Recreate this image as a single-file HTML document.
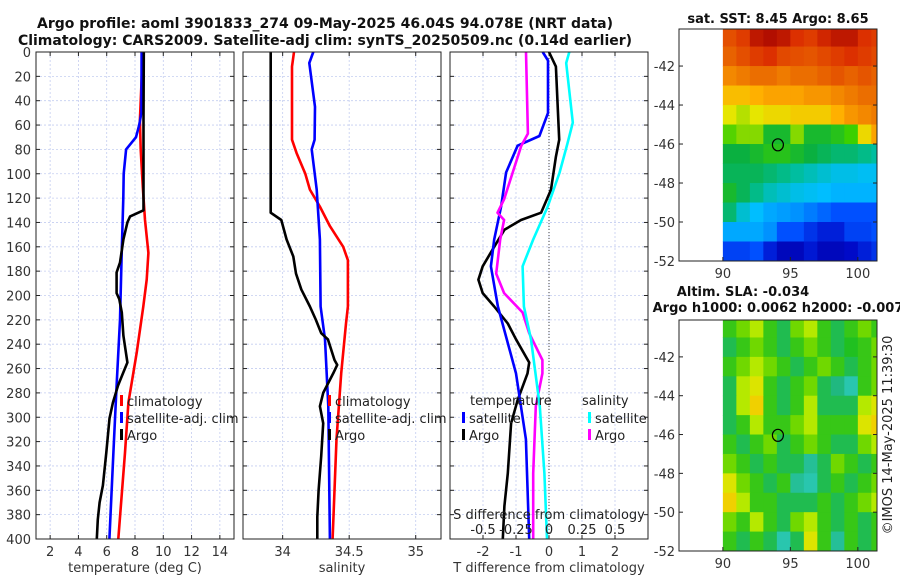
<!DOCTYPE html>
<html><head><meta charset="utf-8"><style>
body{margin:0;background:#fff;}
svg{display:block;font-family:"DejaVu Sans","Liberation Sans",sans-serif;}
</style></head><body>
<svg id="c" width="900" height="580" viewBox="0 0 900 580">
<text x="325" y="28" font-size="14" font-weight="bold" text-anchor="middle" fill="#111">Argo profile: aoml 3901833_274 09-May-2025 46.04S 94.078E (NRT data)</text>
<text x="325" y="45" font-size="14" font-weight="bold" text-anchor="middle" fill="#111">Climatology: CARS2009. Satellite-adj clim: synTS_20250509.nc (0.14d earlier)</text>
<text x="778" y="23" font-size="13" font-weight="bold" text-anchor="middle" fill="#111">sat. SST: 8.45 Argo: 8.65</text>
<text x="743" y="296" font-size="13" font-weight="bold" text-anchor="middle" fill="#111">Altim. SLA: -0.034</text>
<text x="778" y="312" font-size="13" font-weight="bold" text-anchor="middle" fill="#111">Argo h1000: 0.0062 h2000: -0.007</text>
<text transform="translate(892,435) rotate(-90)" font-size="13" text-anchor="middle" fill="#222">©IMOS 14-May-2025 11:39:30</text>
</svg>
<script>
// ---- data ----
const depthTicks=[0,20,40,60,80,100,120,140,160,180,200,220,240,260,280,300,320,340,360,380,400];
const tempTicks=[2,4,6,8,10,12,14];
const salTicks=[34,34.5,35];
const salTickLabels=["34","34.5","35"];
const tdiffTicks=[-2,-1,0,1,2];
const sdiffTicks=[-0.5,-0.25,0,0.25,0.5];
const sdiffTickLabels=["-0.5","-0.25","0","0.25","0.5"];

const tArgoDepth=[0,56,130,135,140,154,173,181,198,203,214,233,255,263,274,288,301,329,356,370,384,400];
const tArgoVal=[8.62,8.6,8.6,7.65,7.46,7.18,6.94,6.7,6.7,6.89,7.07,7.18,7.46,7.18,6.8,6.44,6.2,5.97,5.73,5.5,5.37,5.3];
const tSatDepth=[0,50,60,70,80,100,120,165,220,274,329,400];
const tSatVal=[8.47,8.45,8.3,8.07,7.37,7.2,7.17,7.06,6.94,6.7,6.47,6.19];
const tClimDepth=[0,56,80,111,138,165,187,209,247,288,329,400];
const tClimVal=[8.55,8.35,8.4,8.55,8.71,8.95,8.83,8.59,8.12,7.53,7.29,6.82];

const sArgoDepth=[0,132,138,154,168,182,195,209,220,231,236,253,257,264,280,291,305,332,360,382,400];
const sArgoVal=[33.91,33.91,33.99,34.03,34.08,34.10,34.14,34.205,34.25,34.29,34.34,34.39,34.41,34.38,34.305,34.28,34.305,34.29,34.27,34.26,34.26];
const sClimDepth=[0,12,72,83,100,113,127,143,160,171,209,223,264,318,400];
const sClimVal=[34.085,34.07,34.07,34.105,34.17,34.205,34.28,34.355,34.455,34.49,34.49,34.476,34.44,34.405,34.375];
const sSatDepth=[0,9,45,72,80,113,154,209,236,291,400];
const sSatVal=[34.23,34.2,34.243,34.24,34.218,34.256,34.28,34.285,34.318,34.343,34.355];

const dtArgoDepth=[0,12,72,86,113,132,138,146,160,176,187,198,209,223,236,255,264,286,305,346,373,400];
const dtArgoVal=[0,0.21,0.31,0.21,0.06,-0.24,-0.85,-1.35,-1.66,-2.01,-2.14,-2.01,-1.66,-1.25,-1.0,-0.6,-0.65,-0.95,-1.15,-1.25,-1.35,-1.4];
const dtSatDepth=[0,7,50,69,77,99,127,154,176,209,264,318,400];
const dtSatVal=[-0.19,-0.03,-0.03,-0.29,-0.95,-1.3,-1.45,-1.66,-1.76,-1.55,-1.0,-0.7,-0.6];
const dsArgoDepth=[0,67,77,99,121,132,138,154,182,198,214,231,253,264,291,346,400];
const dsArgoVal=[-0.174,-0.16,-0.21,-0.275,-0.34,-0.39,-0.34,-0.37,-0.40,-0.34,-0.2,-0.15,-0.05,-0.05,-0.1,-0.12,-0.12];
const dsSatDepth=[0,9,58,75,99,127,154,176,209,236,291,346,400];
const dsSatVal=[0.154,0.13,0.18,0.14,0.08,-0.01,-0.12,-0.2,-0.19,-0.136,-0.07,-0.035,-0.015];

const lonTicks=[90,95,100];
const latTicks=[-42,-44,-46,-48,-50,-52];
const gridLon0=90, gridLat0=-40;
const sstGrid=[
[0.85,0.88,0.95,0.97,0.95,0.9,0.88,0.92,0.95,0.95,0.9,0.88],
[0.82,0.85,0.88,0.9,0.86,0.85,0.84,0.86,0.88,0.9,0.88,0.86],
[0.76,0.78,0.8,0.8,0.78,0.8,0.8,0.82,0.84,0.82,0.84,0.82],
[0.68,0.68,0.7,0.72,0.72,0.72,0.74,0.74,0.76,0.78,0.8,0.8],
[0.62,0.6,0.62,0.64,0.64,0.66,0.66,0.66,0.7,0.74,0.76,0.78],
[0.56,0.58,0.58,0.5,0.5,0.58,0.5,0.5,0.52,0.55,0.64,0.72],
[0.48,0.48,0.5,0.52,0.52,0.5,0.48,0.46,0.44,0.44,0.42,0.4],
[0.46,0.46,0.46,0.44,0.42,0.4,0.38,0.36,0.34,0.34,0.33,0.33],
[0.5,0.46,0.42,0.38,0.36,0.34,0.33,0.32,0.31,0.31,0.31,0.31],
[0.44,0.36,0.32,0.3,0.29,0.28,0.26,0.24,0.22,0.22,0.22,0.22],
[0.3,0.3,0.3,0.28,0.22,0.22,0.18,0.15,0.15,0.2,0.2,0.22],
[0.2,0.2,0.22,0.15,0.1,0.1,0.14,0.1,0.1,0.12,0.15,0.18]];
const slaGrid=[
[.5,.55,.6,.5,.45,.55,.6,.5,.45,.5,.55,.5],
[.45,.5,.55,.5,.45,.5,.55,.5,.45,.48,.5,.55],
[.5,.55,.6,.55,.5,.45,.5,.55,.5,.45,.5,.55],
[.45,.6,.65,.5,.45,.5,.55,.45,.42,.38,.5,.55],
[.45,.6,.7,.5,.45,.5,.6,.45,.45,.45,.6,.65],
[.45,.5,.6,.5,.5,.55,.6,.5,.5,.5,.65,.7],
[.5,.45,.5,.55,.45,.5,.55,.5,.45,.45,.55,.6],
[.55,.5,.45,.5,.45,.45,.4,.45,.55,.5,.45,.5],
[.65,.55,.5,.45,.5,.4,.38,.45,.5,.45,.5,.55],
[.7,.6,.5,.5,.45,.45,.45,.5,.45,.5,.55,.6],
[.55,.5,.6,.5,.45,.55,.6,.5,.45,.5,.45,.5],
[.5,.45,.5,.45,.38,.45,.65,.5,.4,.5,.45,.5]];
const argoLon=94.078, argoLat=-46.04;

// colour stops (position, r,g,b)
const sstStops=[[0,0,0,127],[0.12,0,10,200],[0.22,0,80,255],[0.32,0,190,255],[0.4,0,190,160],[0.48,10,176,64],[0.55,60,208,0],[0.62,230,230,0],[0.7,255,176,0],[0.8,235,110,0],[0.9,220,48,0],[1,160,0,0]];
const slaStops=[[0,0,140,220],[0.35,48,208,208],[0.42,32,184,128],[0.48,32,192,32],[0.55,112,216,0],[0.62,208,240,0],[0.7,240,208,0],[1,255,120,0]];

// ---- drawing ----
const NS='http://www.w3.org/2000/svg';
const svg=document.getElementById('c');
function mk(tag,attrs,parent){const e=document.createElementNS(NS,tag);for(const k in attrs)e.setAttribute(k,attrs[k]);(parent||svg).appendChild(e);return e;}
const TOP=52,BOT=539;
const yD=d=>TOP+(d-0)*(BOT-TOP)/400;

function panel(name,x0,x1,xmin,xmax,ticks,labels,xlabel){
  const xs=v=>x0+(v-xmin)*(x1-x0)/(xmax-xmin);
  const g=mk('g',{});
  
  
  depthTicks.forEach(d=>{const l=mk('line',{x1:x0,x2:x1,y1:yD(d),y2:yD(d),stroke:'#c4cdf0','stroke-width':0.8,'stroke-dasharray':'2,2'},g);});
  ticks.forEach((t,i)=>{
    const gl=mk('line',{x1:xs(t),x2:xs(t),y1:TOP,y2:BOT,stroke:'#c4cdf0','stroke-width':0.8,'stroke-dasharray':'2,2'},g);
    
    mk('line',{x1:xs(t),x2:xs(t),y1:BOT,y2:BOT-4,stroke:'#222'},g);
    mk('line',{x1:xs(t),x2:xs(t),y1:TOP,y2:TOP+4,stroke:'#222'},g);
    const tx=mk('text',{x:xs(t),y:556,'font-size':13,'text-anchor':'middle',fill:'#333'},g);
    tx.textContent=labels?labels[i]:String(t);
    
  });
  depthTicks.forEach(d=>{mk('line',{x1:x0,x2:x0+4,y1:yD(d),y2:yD(d),stroke:'#222'},g);mk('line',{x1:x1,x2:x1-4,y1:yD(d),y2:yD(d),stroke:'#222'},g);});
  const xl=mk('text',{x:(x0+x1)/2,y:572,'font-size':13,'text-anchor':'middle',fill:'#333'},g);
  xl.textContent=xlabel;
  
  return {g,xs};
}
function line(p,depths,vals,color,name,xs){
  const f=xs||p.xs;
  const pts=depths.map((d,i)=>f(vals[i]).toFixed(1)+','+yD(d).toFixed(1)).join(' ');
  const e=mk('polyline',{points:pts,fill:'none',stroke:color,'stroke-width':2.6,'stroke-linejoin':'round'},p.g);
  
  
}
function frame(p,x0,x1){mk('rect',{x:x0,y:TOP,width:x1-x0,height:BOT-TOP,fill:'none',stroke:'#222','stroke-width':1},p.g);}
function legItem(p,x,y,color,label,name){
  mk('rect',{x:x,y:y-9,width:3,height:11,fill:color},p.g);
  const t=mk('text',{x:x+7,y:y+2,'font-size':13,fill:'#222'},p.g);
  t.textContent=label;
  
  
}

// panel 1
const p1=panel('temperature-panel',36,234,1,15,tempTicks,null,'temperature (deg C)');
depthTicks.forEach(d=>{const t=mk('text',{x:31,y:yD(d)+5,'font-size':13,'text-anchor':'end',fill:'#333'});t.textContent=d;});
line(p1,tClimDepth,tClimVal,'#ff0000','temp-climatology-line');
line(p1,tSatDepth,tSatVal,'#0000ff','temp-satellite-line');
line(p1,tArgoDepth,tArgoVal,'#000','temp-argo-line');
frame(p1,36,234);
legItem(p1,120,404,'#ff0000','climatology','legend-climatology');
legItem(p1,120,421,'#0000ff','satellite-adj. clim','legend-satellite');
legItem(p1,120,438,'#000','Argo','legend-argo');

// panel 2
const p2=panel('salinity-panel',243,441,33.702,35.19,salTicks,salTickLabels,'salinity');
line(p2,sClimDepth,sClimVal,'#ff0000','sal-climatology-line');
line(p2,sSatDepth,sSatVal,'#0000ff','sal-satellite-line');
line(p2,sArgoDepth,sArgoVal,'#000','sal-argo-line');
frame(p2,243,441);
legItem(p2,328,404,'#ff0000','climatology','legend-climatology');
legItem(p2,328,421,'#0000ff','satellite-adj. clim','legend-satellite');
legItem(p2,328,438,'#000','Argo','legend-argo');

// panel 3
const p3=panel('difference-panel',450,648,-3,3,tdiffTicks,null,'T difference from climatology');
const sx=v=>450+(v-(-0.75))*(198)/(1.5);
mk('line',{x1:p3.xs(0),x2:p3.xs(0),y1:TOP,y2:BOT,stroke:'#444','stroke-width':1,'stroke-dasharray':'1,2'},p3.g);
line(p3,dtArgoDepth,dtArgoVal,'#000','tdiff-argo-line');
line(p3,dtSatDepth,dtSatVal,'#0000ff','tdiff-satellite-line');
line(p3,dsArgoDepth,dsArgoVal,'#ff00ff','sdiff-argo-line',sx);
line(p3,dsSatDepth,dsSatVal,'#00ffff','sdiff-satellite-line',sx);
frame(p3,450,648);
sdiffTicks.forEach((t,i)=>{const tx=mk('text',{x:sx(t),y:534,'font-size':13,'text-anchor':'middle',fill:'#222'},p3.g);tx.textContent=sdiffTickLabels[i];});
{const t=mk('text',{x:549,y:519,'font-size':13,'text-anchor':'middle',fill:'#222'},p3.g);t.textContent='S difference from climatology';}
{const t=mk('text',{x:470,y:405,'font-size':13,fill:'#222'},p3.g);t.textContent='temperature';}
{const t=mk('text',{x:582,y:405,'font-size':13,fill:'#222'},p3.g);t.textContent='salinity';}
legItem(p3,462,421,'#0000ff','satellite','legend-t-satellite');
legItem(p3,462,438,'#000','Argo','legend-t-argo');
legItem(p3,588,421,'#00ffff','satellite','legend-s-satellite');
legItem(p3,588,438,'#ff00ff','Argo','legend-s-argo');

// maps
function cmap(stops,v){v=Math.max(0,Math.min(1,v));
  for(let i=1;i<stops.length;i++){if(v<=stops[i][0]){const a=stops[i-1],b=stops[i];const f=(v-a[0])/(b[0]-a[0]||1);
    return 'rgb('+[1,2,3].map(k=>Math.round(a[k]+(b[k]-a[k])*f)).join(',')+')';}}
  const l=stops[stops.length-1];return 'rgb('+l[1]+','+l[2]+','+l[3]+')';}
function map(name,top,bottom,grid,stops){
  const L=679,R=877,lonMin=86.75,lonMax=101.42,latMax=-40.1,latMin=-52;
  const lx=v=>L+(v-lonMin)*(R-L)/(lonMax-lonMin);
  const ly=v=>top+(latMax-v)*(bottom-top)/(latMax-latMin);
  const g=mk('g',{});
  
  
  const cp=mk('clipPath',{id:name+'-clip'},g);
  mk('rect',{x:L,y:top,width:R-L,height:bottom-top},cp);
  const cg=mk('g',{'clip-path':'url(#'+name+'-clip)'},g);
  grid.forEach((row,i)=>row.forEach((v,j)=>{
    const x=lx(gridLon0+j),y=ly(gridLat0-i);
    const c=mk('rect',{x:x,y:y,width:lx(gridLon0+j+1)-x+0.5,height:ly(gridLat0-i-1)-y+0.5,fill:cmap(stops,v)},cg);
    
    
  }));
  const ci=mk('ellipse',{cx:lx(argoLon),cy:ly(argoLat),rx:5.5,ry:6,fill:'none',stroke:'#000','stroke-width':1.2},g);
  
  
  mk('rect',{x:L,y:top,width:R-L,height:bottom-top,fill:'none',stroke:'#222'},g);
  latTicks.forEach(t=>{mk('line',{x1:L,x2:L+4,y1:ly(t),y2:ly(t),stroke:'#222'},g);mk('line',{x1:R,x2:R-4,y1:ly(t),y2:ly(t),stroke:'#222'},g);
    const tx=mk('text',{x:L-4,y:ly(t)+5,'font-size':13,'text-anchor':'end',fill:'#333'},g);tx.textContent=t;});
  lonTicks.forEach(t=>{mk('line',{x1:lx(t),x2:lx(t),y1:bottom,y2:bottom-4,stroke:'#222'},g);
    const tx=mk('text',{x:lx(t),y:bottom+17,'font-size':13,'text-anchor':'middle',fill:'#333'},g);tx.textContent=t;});
}
map('sst-map',29,261,sstGrid,sstStops);
map('sla-map',320,551,slaGrid,slaStops);
</script>
</body></html>
